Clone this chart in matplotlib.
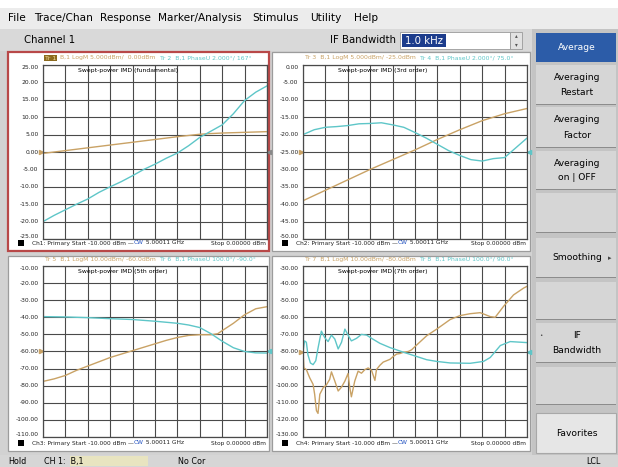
import matplotlib.pyplot as plt
from matplotlib.patches import Rectangle

W, H = 618, 467
TAN = '#c9a265'
CYAN = '#5ec6c8'
GRID = '#4a4a4a'

# ---- Ch1: fundamental (LogM tan, PhaseU cyan) ----
ch1_tan_x = [-10, -9, -8, -7, -6, -5, -4, -3, -2.5, -2, -1, 0]
ch1_tan_y = [-0.4, 0.4, 1.2, 2.0, 2.8, 3.6, 4.4, 5.1, 5.3, 5.45, 5.65, 5.85]
ch1_cyan_x = [-10, -9.5, -9, -8.5, -8, -7.5, -7, -6.5, -6, -5.5, -5, -4.5, -4,
              -3.5, -3, -2.5, -2, -1.5, -1, -0.5, 0]
ch1_cyan_y = [-20.0, -18.2, -16.6, -15.0, -13.5, -11.6, -10.0, -8.5, -6.8, -5.0,
              -3.5, -1.8, -0.3, 1.8, 4.2, 6.0, 7.8, 11.0, 14.8, 17.2, 19.0]

# ---- Ch2: 3rd order ----
ch2_tan_x = [-10, -9, -8, -7, -6, -5, -4, -3, -2, -1, 0]
ch2_tan_y = [-39.0, -36.0, -33.0, -30.0, -27.2, -24.4, -21.4, -18.6, -16.0, -14.0, -12.5]
ch2_cyan_x = [-10, -9.5, -9, -8.5, -8, -7.5, -7, -6.5, -6, -5.5, -5, -4.5, -4,
              -3.5, -3, -2.5, -2, -1.5, -1, -0.5, 0]
ch2_cyan_y = [-20.0, -18.6, -17.9, -17.7, -17.4, -16.9, -16.8, -16.6, -17.2, -17.9,
              -19.4, -21.0, -22.8, -24.6, -26.0, -27.2, -27.6, -26.9, -26.6, -23.8, -21.0]

# ---- Ch3: 5th order ----
ch3_tan_x = [-10, -9.5, -9, -8.5, -8, -7.5, -7, -6.5, -6, -5.5, -5, -4.5, -4, -3.5,
             -3, -2.5, -2.2, -2, -1.5, -1, -0.5, 0]
ch3_tan_y = [-77.5, -76.0, -74.0, -71.0, -68.5, -66.0, -63.5, -61.5, -59.5, -57.5,
             -55.5, -53.5, -51.8, -50.6, -50.2, -50.2, -49.6, -47.8, -43.5, -38.5,
             -35.0, -33.8]
ch3_cyan_x = [-10, -9, -8, -7, -6, -5, -4, -3.5, -3, -2.5, -2, -1.5, -1, -0.5, 0]
ch3_cyan_y = [-39.6, -39.8, -40.2, -40.8, -41.3, -42.3, -43.5, -44.5, -46.0, -49.6,
              -54.0, -57.8, -60.0, -60.8, -60.9]

# ---- Ch4: 7th order ----
ch4_tan_x = [-10, -9.96, -9.85, -9.7, -9.55, -9.48, -9.4, -9.33, -9.25, -9.1, -8.96,
             -8.81, -8.73, -8.58, -8.43, -8.28, -8.13, -7.99, -7.91, -7.84, -7.69,
             -7.54, -7.39, -7.24, -7.09, -6.94, -6.79, -6.72, -6.57, -6.42, -6.27,
             -6.12, -5.97, -5.82, -5.67, -5.52, -5.3, -5.15, -5.0, -4.48, -4.03,
             -3.43, -2.99, -2.54, -2.09, -1.64, -1.42, -1.04, -0.6, -0.15, 0]
ch4_tan_y = [-80.0, -89.6, -90.6, -95.4, -99.2, -105.0, -114.6, -116.2, -105.0,
             -101.2, -99.6, -96.3, -91.9, -97.3, -103.1, -100.8, -97.3, -92.9,
             -101.2, -106.5, -97.3, -91.5, -92.7, -90.6, -89.6, -91.0, -96.9, -90.6,
             -88.1, -86.2, -85.4, -84.6, -82.9, -81.5, -81.2, -80.4, -80.0, -79.0,
             -77.1, -70.8, -66.9, -61.3, -59.0, -57.9, -57.3, -59.6, -60.0, -53.5,
             -46.9, -42.9, -41.9]
ch4_cyan_x = [-10, -9.93, -9.85, -9.78, -9.67, -9.55, -9.43, -9.33, -9.18, -9.03,
              -8.88, -8.73, -8.58, -8.43, -8.28, -8.13, -7.99, -7.84, -7.61, -7.39,
              -7.16, -6.94, -6.57, -6.12, -5.52, -4.93, -4.48, -4.03, -3.43, -2.54,
              -1.94, -1.64, -1.19, -0.75, 0]
ch4_cyan_y = [-80.0, -73.8, -74.6, -81.9, -86.7, -87.7, -85.4, -78.1, -68.1, -71.9,
              -74.2, -70.4, -72.7, -78.5, -74.6, -66.9, -70.4, -73.8, -72.3, -70.0,
              -70.4, -72.3, -75.2, -77.7, -80.4, -82.9, -84.8, -85.8, -86.7, -86.9,
              -85.8, -83.5, -76.5, -74.2, -74.8]

ch1_ticks = [25, 20, 15, 10, 5, 0, -5, -10, -15, -20, -25]
ch2_ticks = [0, -5, -10, -15, -20, -25, -30, -35, -40, -45, -50]
ch3_ticks = [-10, -20, -30, -40, -50, -60, -70, -80, -90, -100, -110]
ch4_ticks = [-30, -40, -50, -60, -70, -80, -90, -100, -110, -120, -130]

menu_items = ['File', 'Trace/Chan', 'Response', 'Marker/Analysis', 'Stimulus', 'Utility', 'Help']
softkeys = [['Average'], ['Averaging', 'Restart'], ['Averaging', 'Factor'],
            ['Averaging', 'on | OFF'], [], ['Smoothing'], [], ['IF', 'Bandwidth'], [],
            ['Favorites']]

fig = plt.figure(figsize=(W / 100, H / 100), dpi=100)
fig.patch.set_facecolor('#d2d2d2')
plt.rcParams['font.family'] = 'DejaVu Sans'

bg = fig.add_axes([0, 0, 1, 1])
bg.set_xlim(0, W)
bg.set_ylim(H, 0)
bg.axis('off')
renderer = fig.canvas.get_renderer()


def rect(x0, y0, x1, y1, fc, ec='none', lw=0.0, z=1):
    bg.add_patch(Rectangle((x0, y0), x1 - x0, y1 - y0, facecolor=fc,
                           edgecolor=ec, linewidth=lw, zorder=z))


def txt(x, y, s, size=7.5, color='black', ha='left', **kw):
    return bg.text(x, y, s, fontsize=size, color=color, ha=ha, va='center', zorder=5, **kw)


def segs(x, y, parts, size):
    # coloured runs of text laid end to end
    for s, c, box in parts:
        t = txt(x, y, s, size=size, color=c, bbox=box)
        x += t.get_window_extent(renderer=renderer).width


# menu and channel bars
rect(0, 0, W, 8, 'white')
rect(0, 8, W, 29, '#ececec')
menu_x = [8, 34, 100, 158, 252, 310, 354]
for mx, m in zip(menu_x, menu_items):
    txt(mx, 18, m, size=7.6)
rect(0, 29, 532, 51, '#d9d9d9')
txt(24, 40, 'Channel 1', size=7.3)
txt(396, 40, 'IF Bandwidth', size=7.3, ha='right')
rect(400, 32, 510, 49, 'white', ec='#9a9a9a', lw=0.6)
rect(402, 34, 446, 47, '#1c3c8c', z=2)
txt(405, 40.5, '1.0 kHz', size=7.3, color='white')
rect(510, 32, 522, 49, '#e2e2e2', ec='#9a9a9a', lw=0.6)
txt(516, 36, '▴', size=4, ha='center', color='#555555')
txt(516, 45, '▾', size=4, ha='center', color='#555555')

# softkey column
rect(532, 29, W, 455, '#c4c4c4')
key_rows = [(33, 62), (65, 105), (107, 148), (151, 190), (193, 233), (238, 278),
            (282, 320), (323, 363), (367, 405), (413, 453)]
for (y0, y1), lines in zip(key_rows, softkeys):
    if lines == ['Average']:
        rect(536, y0, 616, y1, '#2c5ca8')
        color = 'white'
    elif lines == ['Favorites']:
        rect(536, y0, 616, y1, '#e6e6e6', ec='#a8a8a8', lw=0.8)
        color = 'black'
    else:
        rect(536, y0, 616, y1, '#d6d6d6')
        rect(536, y1 - 1.5, 616, y1, '#8c8c8c', z=2)
        color = 'black'
    mid = (y0 + y1) / 2
    n = len(lines)
    for i, line in enumerate(lines):
        txt(577, mid + (i - (n - 1) / 2) * 15, line, size=6.6, ha='center', color=color)
txt(610, 258, '▸', size=5, ha='center', color='#444444')
txt(541, 336, '•', size=4, ha='center', color='#444444')

# status bar
rect(0, 455, W, H, '#d6d6d6')
rect(70, 456, 148, 466, '#e8e4c0')
txt(8, 461.5, 'Hold', size=5.8)
txt(44, 461.5, 'CH 1:  B,1', size=5.8)
txt(178, 461.5, 'No Cor', size=5.8)
txt(586, 461.5, 'LCL', size=5.8)

panels = [
    dict(frame=(8, 52, 269, 251), grid=(43, 65, 267, 239), edge='#b84848',
         ticks=ch1_ticks, ref=0, title='Swept-power IMD (fundamental)',
         tan=(ch1_tan_x, ch1_tan_y), cyan=(ch1_cyan_x, ch1_cyan_y), ch='Ch1',
         head=('Tr 1', 'B,1 LogM 5.000dBm/  0.00dBm  ', 'Tr 2  B,1 PhaseU 2.000°/ 167°')),
    dict(frame=(272, 52, 530, 251), grid=(303, 65, 527, 239), edge='#9c9c9c',
         ticks=ch2_ticks, ref=-25, title='Swept-power IMD (3rd order)',
         tan=(ch2_tan_x, ch2_tan_y), cyan=(ch2_cyan_x, ch2_cyan_y), ch='Ch2',
         head=(None, 'Tr 3  B,1 LogM 5.000dBm/ -25.0dBm  ', 'Tr 4  B,1 PhaseU 2.000°/ 75.0°')),
    dict(frame=(8, 256, 269, 451), grid=(43, 266, 267, 437), edge='#9c9c9c',
         ticks=ch3_ticks, ref=-60, title='Swept-power IMD (5th order)',
         tan=(ch3_tan_x, ch3_tan_y), cyan=(ch3_cyan_x, ch3_cyan_y), ch='Ch3',
         head=(None, 'Tr 5  B,1 LogM 10.00dBm/ -60.0dBm  ', 'Tr 6  B,1 PhaseU 100.0°/ -90.0°')),
    dict(frame=(272, 256, 530, 451), grid=(303, 266, 527, 437), edge='#9c9c9c',
         ticks=ch4_ticks, ref=-80, title='Swept-power IMD (7th order)',
         tan=(ch4_tan_x, ch4_tan_y), cyan=(ch4_cyan_x, ch4_cyan_y), ch='Ch4',
         head=(None, 'Tr 7  B,1 LogM 10.00dBm/ -80.0dBm  ', 'Tr 8  B,1 PhaseU 100.0°/ 90.0°')),
]

for p in panels:
    fx0, fy0, fx1, fy1 = p['frame']
    rect(fx0, fy0, fx1, fy1, 'white', ec=p['edge'], lw=1.6 if p['ch'] == 'Ch1' else 0.9)
    gx0, gy0, gx1, gy1 = p['grid']

    # trace header line
    hx = gx0 + 2
    parts = []
    if p['head'][0]:
        parts.append((p['head'][0], '#f2dc9a',
                      dict(boxstyle='square,pad=0.15', fc='#8c6a1e', ec='none')))
        parts.append(('  ', TAN, None))
    parts.append((p['head'][1], TAN, None))
    parts.append((p['head'][2], CYAN, None))
    segs(hx, gy0 - 7, parts, 4.4)

    # footer line
    rect(fx0 + 10, fy1 - 11, fx0 + 16, fy1 - 5, 'black', z=3)
    segs(fx0 + 24, fy1 - 8, [(p['ch'] + ': Primary Start -10.000 dBm —', '#222222', None),
                             ('CW', '#2050c0', None),
                             (' 5.00011 GHz', '#222222', None)], 4.2)
    txt(gx1 - 1, fy1 - 8, 'Stop 0.00000 dBm', size=4.2, ha='right', color='#222222')

    ax = fig.add_axes([gx0 / W, 1 - gy1 / H, (gx1 - gx0) / W, (gy1 - gy0) / H])
    ax.set_facecolor('white')
    ticks = p['ticks']
    ax.set_xlim(-10, 0)
    ax.set_ylim(ticks[-1], ticks[0])
    ax.set_xticks([-10 + i for i in range(11)])
    ax.set_yticks(ticks)
    ax.tick_params(length=0, labelbottom=False, labelleft=False)
    ax.grid(True, color=GRID, linewidth=0.8)
    for s in ax.spines.values():
        s.set_color(GRID)
        s.set_linewidth(0.9)
    ax.plot(*p['tan'], color=TAN, linewidth=1.0)
    ax.plot(*p['cyan'], color=CYAN, linewidth=1.0)
    ax.text(0.155, 0.985, p['title'], transform=ax.transAxes, fontsize=4.4,
            va='top', ha='left')

    yt = ax.get_yaxis_transform()
    for i, t in enumerate(ticks):
        va = 'top' if i == 0 else ('bottom' if i == len(ticks) - 1 else 'center')
        ax.text(-0.02, t, f'{t:.2f}', transform=yt, fontsize=4.3, ha='right',
                va=va, color='#222222')
    # reference level markers
    ax.plot([-0.008], [p['ref']], marker='>', ms=3, color=TAN, transform=yt, clip_on=False)
    ax.plot([1.008], [p['ref']], marker='<', ms=3, color=CYAN if p['ch'] != 'Ch1' else '#888888',
            transform=yt, clip_on=False)

fig.savefig('out.png', dpi=100, facecolor=fig.get_facecolor())
